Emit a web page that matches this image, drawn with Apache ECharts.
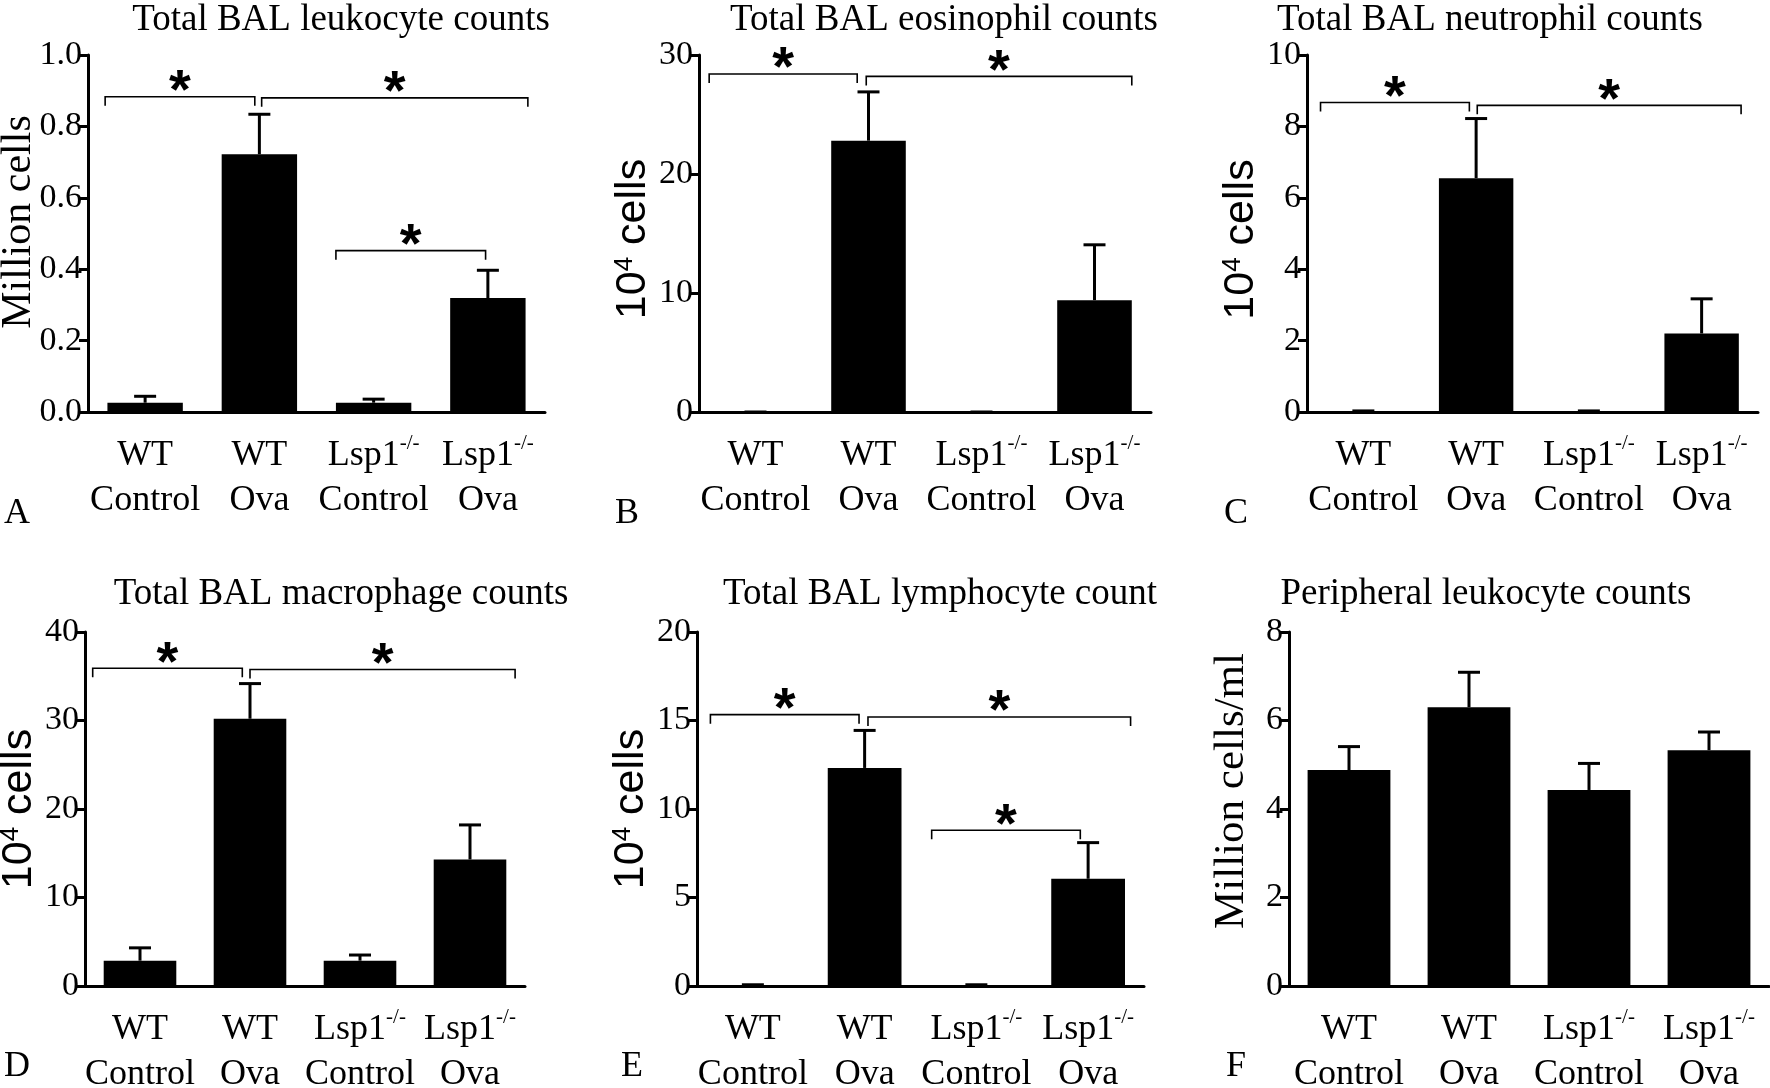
<!DOCTYPE html>
<html><head><meta charset="utf-8">
<script src="https://cdn.jsdelivr.net/npm/echarts@6/dist/echarts.min.js"></script>
<style>html,body{margin:0;padding:0;background:#fff}#c{width:1770px;height:1088px}</style>
</head><body><div id="c"></div>
<script>
// ---------- data ----------
const groups = ['WT Control', 'WT Ova', 'Lsp1-/- Control', 'Lsp1-/- Ova'];
const groupLine1 = ['WT', 'WT', 'Lsp1', 'Lsp1'];
const groupSup = ['', '', '-/-', '-/-'];
const groupLine2 = ['Control', 'Ova', 'Control', 'Ova'];

const titles = ['Total BAL leukocyte counts', 'Total BAL eosinophil counts', 'Total BAL neutrophil counts',
                'Total BAL macrophage counts', 'Total BAL lymphocyte count', 'Peripheral leukocyte counts'];
const panelLetters = ['A', 'B', 'C', 'D', 'E', 'F'];
const yNames = ['Million cells', '10^4 cells', '10^4 cells', '10^4 cells', '10^4 cells', 'Million cells/ml'];
const yMax = [1, 30, 10, 40, 20, 8];
const yStep = [0.2, 10, 2, 10, 5, 2];

const leukocyteMean = [0.026, 0.722, 0.026, 0.319];
const leukocyteSem  = [0.018, 0.112, 0.010, 0.078];
const eosinophilMean = [0, 22.8, 0, 9.4];
const eosinophilSem  = [0, 4.1, 0, 4.65];
const neutrophilMean = [0.01, 6.55, 0.01, 2.2];
const neutrophilSem  = [0.02, 1.67, 0.02, 0.97];
const macrophageMean = [2.86, 30.2, 2.86, 14.3];
const macrophageSem  = [1.45, 3.97, 0.64, 3.9];
const lymphocyteMean = [0.02, 12.32, 0.02, 6.06];
const lymphocyteSem  = [0.05, 2.12, 0.05, 2.04];
const peripheralMean = [4.88, 6.30, 4.43, 5.33];
const peripheralSem  = [0.53, 0.79, 0.60, 0.41];

// significance brackets: [from group position, to group position, height]
const leukocyteSig = [[-0.35, 0.96, 0.883], [1.02, 3.35, 0.88], [1.67, 2.98, 0.452]];
const eosinophilSig = [[-0.41, 0.90, 28.4], [0.98, 3.33, 28.2]];
const neutrophilSig = [[-0.38, 0.94, 8.67], [1.01, 3.35, 8.59]];
const macrophageSig = [[-0.43, 0.93, 35.9], [1.00, 3.41, 35.77]];
const lymphocyteSig = [[-0.38, 0.95, 15.33], [1.03, 3.38, 15.2], [1.60, 2.93, 8.8]];
const peripheralSig = [];

const means = [leukocyteMean, eosinophilMean, neutrophilMean, macrophageMean, lymphocyteMean, peripheralMean];
const sems = [leukocyteSem, eosinophilSem, neutrophilSem, macrophageSem, lymphocyteSem, peripheralSem];
const sigs = [leukocyteSig, eosinophilSig, neutrophilSig, macrophageSig, lymphocyteSig, peripheralSig];

// ---------- layout (pixels) ----------
const grids = [
  {left: 88,   top: 55,  width: 457, height: 357},
  {left: 699,  top: 55,  width: 452, height: 357},
  {left: 1307, top: 55,  width: 451, height: 357},
  {left: 85,   top: 632, width: 440, height: 354},
  {left: 697,  top: 632, width: 447, height: 354},
  {left: 1289, top: 632, width: 480, height: 354}
];
const titlePos = [[341, 20], [944, 20], [1490, 20], [341, 594], [940, 594], [1486, 594]];
const letterPos = [[17, 514], [627, 514], [1236, 514], [17, 1067], [632, 1067], [1236, 1067]];
const serifNamePos = [[19, 222], null, null, null, null, [1232, 791]];
const nameGaps = [51, 40, 42, 37, 41, 36];
const namePads = [[0, 0, 0, 0], [0, 11, 0, 0], [0, 12, 0, 0], [0, 0, 0, 0], [0, 0, 0, 0], [0, 0, 0, 0]];
const barWidths = ['66%', '66%', '66%', '66%', '66%', '69%'];

const SERIF = 'Liberation Serif';
const SANS = 'Liberation Sans';

const option = {
  animation: false,
  backgroundColor: '#fff',
  grid: [], xAxis: [], yAxis: [], series: [], graphic: []
};

grids.forEach((g, i) => {
  option.grid.push(Object.assign({outerBoundsMode: 'none', containLabel: false}, g));
  option.xAxis.push({
    type: 'category', gridIndex: i, data: groups,
    axisLine: {onZero: false, lineStyle: {color: '#000', width: 3}},
    axisTick: {alignWithLabel: true, length: 10, lineStyle: {color: '#000', width: 3}},
    axisLabel: {
      interval: 0, margin: 21, color: '#000',
      formatter: (v, idx) => '{a|' + groupLine1[idx] + '}' + (groupSup[idx] ? '{s|' + groupSup[idx] + '}' : '') + '\n{a|' + groupLine2[idx] + '}',
      rich: {
        a: {fontFamily: SERIF, fontSize: 36, lineHeight: 45, color: '#000'},
        s: {fontFamily: SERIF, fontSize: 21, lineHeight: 26, verticalAlign: 'top', color: '#000'}
      }
    }
  });
  option.xAxis.push({type: 'value', gridIndex: i, min: -0.5, max: 3.5, show: false,
    axisLine: {show: false, onZero: false}, axisTick: {show: false}, axisLabel: {show: false}, splitLine: {show: false}});
  const parts = yNames[i].split('^');
  const yAxisOpt = {
    type: 'value', gridIndex: i, min: 0, max: yMax[i], interval: yStep[i],
    splitLine: {show: false},
    axisLine: {show: true, onZero: false, lineStyle: {color: '#000', width: 3}},
    axisTick: {show: true, length: 9, lineStyle: {color: '#000', width: 3}},
    axisLabel: {color: '#000', fontFamily: SERIF, fontSize: 34, margin: 6,
      formatter: v => (yStep[i] < 1 ? v.toFixed(1) : String(v))}
  };
  if (parts.length > 1) {
    const sp = parts[1].indexOf(' ');
    yAxisOpt.name = '{n|' + parts[0] + '}{s|' + parts[1].slice(0, sp) + '}{n|' + parts[1].slice(sp) + '}';
    yAxisOpt.nameLocation = 'middle';
    yAxisOpt.nameGap = nameGaps[i];
    yAxisOpt.nameRotate = 90;
    yAxisOpt.nameTextStyle = {
      color: '#000', fontFamily: SANS, fontSize: 43, padding: namePads[i],
      rich: {
        n: {fontFamily: SANS, fontSize: 43, color: '#000', lineHeight: 44},
        s: {fontFamily: SANS, fontSize: 26, color: '#000', lineHeight: 28, verticalAlign: 'top'}
      }
    };
  } else {
    option.graphic.push({
      type: 'text', x: serifNamePos[i][0], y: serifNamePos[i][1], rotation: Math.PI / 2,
      style: {text: yNames[i], font: (i === 5 ? 43 : 42) + 'px ' + SERIF, fill: '#000', align: 'center', verticalAlign: 'middle'}
    });
  }
  option.yAxis.push(yAxisOpt);
  option.series.push({
    type: 'bar', xAxisIndex: 2 * i, yAxisIndex: i, data: means[i],
    barWidth: barWidths[i], itemStyle: {color: '#000'}, z: 2
  });
  option.series.push({
    type: 'custom', xAxisIndex: 2 * i, yAxisIndex: i, z: 3,
    data: means[i].map((m, j) => [j, m, m + sems[i][j]]),
    renderItem: (params, api) => {
      const b = api.coord([api.value(0), api.value(1)]);
      const t = api.coord([api.value(0), api.value(2)]);
      return {type: 'group', children: [
        {type: 'line', shape: {x1: b[0], y1: b[1], x2: t[0], y2: t[1]}, style: {stroke: '#000', lineWidth: 3}},
        {type: 'line', shape: {x1: t[0] - 11, y1: t[1], x2: t[0] + 11, y2: t[1]}, style: {stroke: '#000', lineWidth: 3}}
      ]};
    }
  });
  if (sigs[i].length) {
    option.series.push({
      type: 'custom', xAxisIndex: 2 * i + 1, yAxisIndex: i, z: 4,
      data: sigs[i],
      renderItem: (params, api) => {
        const a = api.coord([api.value(0), api.value(2)]);
        const b = api.coord([api.value(1), api.value(2)]);
        return {type: 'group', children: [
          {type: 'polyline', shape: {points: [[a[0], a[1] + 9], [a[0], a[1]], [b[0], b[1]], [b[0], b[1] + 9]]},
           style: {stroke: '#000', lineWidth: 1.6, fill: null}},
          {type: 'text', x: (a[0] + b[0]) / 2, y: a[1] - 4,
           style: {text: '*', align: 'center', verticalAlign: 'middle',
                   font: 'bold 56px ' + SANS, fill: '#000'}}
        ]};
      }
    });
  }
  option.graphic.push({
    type: 'text', x: titlePos[i][0], y: titlePos[i][1],
    style: {text: titles[i], font: '37px ' + SERIF, fill: '#000', align: 'center', verticalAlign: 'middle'}
  });
  option.graphic.push({
    type: 'text', x: letterPos[i][0], y: letterPos[i][1],
    style: {text: panelLetters[i], font: '36px ' + SERIF, fill: '#000', align: 'center', verticalAlign: 'middle'}
  });
});

const chart = echarts.init(document.getElementById('c'), null, {renderer: 'canvas'});
chart.setOption(option);
</script>
</body></html>
